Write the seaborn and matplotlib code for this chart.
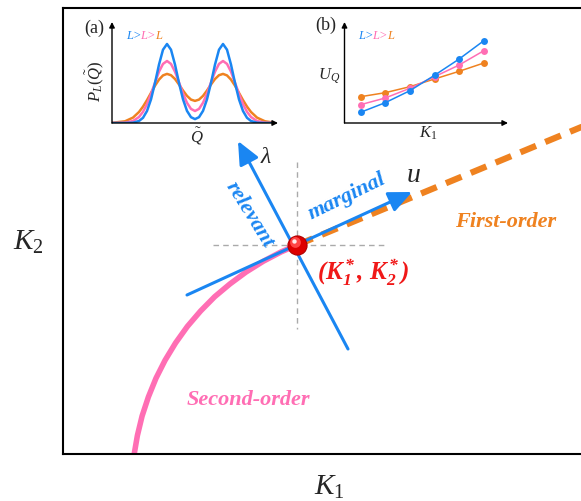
import matplotlib
matplotlib.use("Agg")
import matplotlib.pyplot as plt
import seaborn as sns

# colours
BLUE = "#1A86F2"
PINK = "#FF6EB4"
ORANGE = "#EF8220"
RED = "#F01818"

# inset (a): P_L(Q~) for three sizes (heights above the axis, px units)
q_tilde = [0, 13, 21, 27, 31, 35, 39, 43, 47, 51, 55, 59, 63, 67, 71, 75, 79, 83,
           87, 91, 95, 99, 103, 107, 111, 115, 119, 123, 127, 131, 135, 139, 145, 153, 161]
p_blue = [0, 0, 0.3, 2.0, 5.2, 12.0, 23.6, 40.1, 58.4, 73.3, 79, 73.3, 58.4, 40.1, 23.7, 12.1, 5.8, 3.9,
          5.8, 12.1, 23.7, 40.1, 58.4, 73.3, 79, 73.3, 58.4, 40.1, 23.6, 12.0, 5.2, 2.0, 0.3, 0, 0]
p_pink = [0, 0.3, 2.0, 6.0, 11.2, 18.8, 29.0, 40.4, 51.3, 59.1, 62, 59.1, 51.3, 40.6, 29.5, 20.2, 14.1, 12.0,
          14.1, 20.2, 29.5, 40.6, 51.3, 59.1, 62, 59.1, 51.3, 40.4, 29.0, 18.8, 11.2, 6.0, 2.0, 0.3, 0.1]
p_orange = [0.2, 1.7, 5.4, 11.0, 16.4, 22.9, 30.1, 37.3, 43.4, 47.6, 49.1, 47.8, 44.0, 38.5, 32.5, 27.1, 23.4, 22.1,
            23.4, 27.1, 32.5, 38.5, 44.0, 47.8, 49.1, 47.6, 43.4, 37.3, 30.1, 22.9, 16.4, 11.0, 5.4, 1.7, 0.5]

# inset (b): U_Q vs K1
k1 = [1, 2, 3, 4, 5, 6]
u_blue = [10.7, 20.3, 32.3, 47.7, 64.0, 82.3]
u_pink = [18.3, 25.0, 34.7, 46.3, 58.0, 72.3]
u_orange = [26.3, 30.3, 36.3, 44.0, 51.7, 60.0]

# main sketch (pixel-like coordinates, y downwards)
crit = (297, 246)
second_x = [297, 281.1, 263.4, 246.1, 230.0, 214.7, 200.6, 187.4, 175.6, 165.1,
            156.0, 148.4, 142.1, 137.4, 134.0, 132.8]
second_y = [246, 252.9, 262.2, 273.0, 284.9, 297.7, 312.0, 327.4, 343.9, 361.2,
            379.2, 397.9, 417.0, 436.5, 456.2, 466.2]
first_x = [297, 620]
first_y = [246, 112]
u_axis = [(187, 296), (412, 193)]
lam_axis = [(348, 350), (238, 142)]

sns.set_style("white")
plt.rcParams["font.family"] = ["Liberation Serif", "DejaVu Serif"]
plt.rcParams["mathtext.fontset"] = "custom"
plt.rcParams["mathtext.rm"] = "Liberation Serif"
plt.rcParams["mathtext.it"] = "Liberation Serif:italic"
plt.rcParams["mathtext.bf"] = "Liberation Serif:bold:italic"

W, H = 581, 502
fig = plt.figure(figsize=(W / 100, H / 100), dpi=100)


def box(x0, y0, x1, y1):
    return [x0 / W, 1 - y1 / H, (x1 - x0) / W, (y1 - y0) / H]


ax = fig.add_axes(box(63, 9, 620, 455))
ax.set_xlim(63, 620)
ax.set_ylim(455, 9)
ax.set_xticks([])
ax.set_yticks([])
for s in ["left", "top", "bottom"]:
    ax.spines[s].set_linewidth(1.5)
    ax.spines[s].set_color("black")
ax.spines["right"].set_visible(False)

# guide lines through the critical point
ax.plot([213, 388], [crit[1], crit[1]], ls=(0, (4, 3)), color="#AAAAAA", lw=1)
ax.plot([crit[0], crit[0]], [163, 330], ls=(0, (4, 3)), color="#AAAAAA", lw=1)

sns.lineplot(x=second_x, y=second_y, sort=False, color=PINK, lw=4, ax=ax)
sns.lineplot(x=first_x, y=first_y, sort=False, color=ORANGE, lw=4.5,
             linestyle=(0, (2.7, 1.6)), ax=ax)

for (x0, y0), (x1, y1) in [u_axis, lam_axis]:
    ax.annotate("", xy=(x1, y1), xytext=(x0, y0),
                arrowprops=dict(arrowstyle="-|>,head_length=1.0,head_width=0.45",
                                color=BLUE, lw=2.2, shrinkA=0, shrinkB=0, mutation_scale=14))

# red ball
ax.scatter([crit[0]], [crit[1]], s=190, color="#DD0000", edgecolor="#B00000", lw=0.8, zorder=5)
ax.scatter([crit[0] - 2.5], [crit[1] - 3], s=60, color="#FF4545", lw=0, zorder=6)
ax.scatter([crit[0] - 3.5], [crit[1] - 4], s=10, color="white", alpha=0.9, lw=0, zorder=7)

bi = dict(fontweight="bold", fontstyle="italic", fontsize=16)
ax.text(249, 215, "relevant", color=BLUE, rotation=-58, ha="center", va="center", **bi)
ax.text(347, 197, "marginal", color=BLUE, rotation=26, ha="center", va="center", **bi)
ax.text(506, 222, "First-order", color=ORANGE, ha="center", va="center", **bi)
ax.text(248, 400, "Second-order", color=PINK, ha="center", va="center", **bi)
ax.text(363, 273, r"$\mathbf{(K_1^*,\,K_2^*)}$", color=RED, fontsize=18, ha="center", va="center")
ax.text(266, 158, r"$\lambda$", fontsize=17, ha="center", va="center")
ax.text(413, 176, r"$u$", fontsize=20, ha="center", va="center")
ax.text(28, 242, r"$K_2$", fontsize=21, ha="center", va="center", clip_on=False)
ax.text(329, 487, r"$K_1$", fontsize=21, ha="center", va="center", clip_on=False)


def arrow_axes(a):
    for s in a.spines.values():
        s.set_visible(False)
    a.set_xticks([])
    a.set_yticks([])
    a.set_facecolor("none")
    for end in [(1, 0), (0, 1)]:
        a.annotate("", xy=end, xytext=(0, 0), xycoords="axes fraction",
                   arrowprops=dict(arrowstyle="-|>", color="black", lw=1,
                                   shrinkA=0, shrinkB=0, mutation_scale=8))


def size_legend(x0, y0):
    for dx, txt, c in [(0, "L>", BLUE), (14.5, "L>", PINK), (29, "L", ORANGE)]:
        ax.text(x0 + dx, y0, txt, color=c, fontsize=9, fontstyle="italic",
                ha="left", va="center", clip_on=False)


# inset (a)
axa = fig.add_axes(box(112, 23, 278, 124))
axa.set_xlim(0, 166)
axa.set_ylim(0, 101)
for yv, c in [(p_orange, ORANGE), (p_pink, PINK), (p_blue, BLUE)]:
    sns.lineplot(x=q_tilde, y=yv, sort=False, color=c, lw=1.8, ax=axa)
arrow_axes(axa)
axa.set_xlabel("")
axa.set_ylabel("")
ax.text(94, 28, "(a)", fontsize=13, ha="center", va="center")
ax.text(95, 81, r"$P_L(\tilde{Q})$", fontsize=12, rotation=90, ha="center", va="center")
ax.text(197, 136, r"$\tilde{Q}$", fontsize=12, ha="center", va="center")
size_legend(126, 36)

# inset (b)
axb = fig.add_axes(box(344.5, 23, 508, 124))
axb.set_xlim(0.35, 6.98)
axb.set_ylim(0, 101)
for yv, c in [(u_orange, ORANGE), (u_pink, PINK), (u_blue, BLUE)]:
    sns.lineplot(x=k1, y=yv, color=c, lw=1.1, marker="o", markersize=5,
                 markeredgewidth=0, ax=axb)
arrow_axes(axb)
axb.set_xlabel("")
axb.set_ylabel("")
ax.text(326, 25, "(b)", fontsize=13, ha="center", va="center")
ax.text(329, 76, r"$U_Q$", fontsize=12, ha="center", va="center")
ax.text(428, 133, r"$K_1$", fontsize=12, ha="center", va="center")
size_legend(358, 36)

fig.savefig("out.png", dpi=100)
